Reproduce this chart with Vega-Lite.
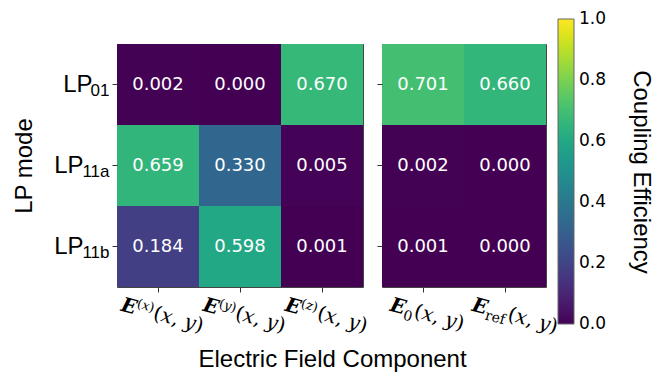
{
  "$schema": "https://vega.github.io/schema/vega-lite/v6.json",
  "padding": {"left": 12, "top": 19, "right": 5, "bottom": 3},
  "background": "white",
  "data": {"values": [
    {"panel": "L", "mode": "LP01", "comp": "Ex", "value": 0.002},
    {"panel": "L", "mode": "LP01", "comp": "Ey", "value": 0.000},
    {"panel": "L", "mode": "LP01", "comp": "Ez", "value": 0.670},
    {"panel": "L", "mode": "LP11a", "comp": "Ex", "value": 0.659},
    {"panel": "L", "mode": "LP11a", "comp": "Ey", "value": 0.330},
    {"panel": "L", "mode": "LP11a", "comp": "Ez", "value": 0.005},
    {"panel": "L", "mode": "LP11b", "comp": "Ex", "value": 0.184},
    {"panel": "L", "mode": "LP11b", "comp": "Ey", "value": 0.598},
    {"panel": "L", "mode": "LP11b", "comp": "Ez", "value": 0.001},
    {"panel": "R", "mode": "LP01", "comp": "E0", "value": 0.701},
    {"panel": "R", "mode": "LP01", "comp": "Eref", "value": 0.660},
    {"panel": "R", "mode": "LP11a", "comp": "E0", "value": 0.002},
    {"panel": "R", "mode": "LP11a", "comp": "Eref", "value": 0.000},
    {"panel": "R", "mode": "LP11b", "comp": "E0", "value": 0.001},
    {"panel": "R", "mode": "LP11b", "comp": "Eref", "value": 0.000}
  ]},
  "title": {"text": "Electric Field Component", "orient": "bottom", "anchor": "middle", "font": "Liberation Sans", "fontSize": 24, "fontWeight": "normal", "color": "black", "offset": 11},
  "spacing": 6,
  "hconcat": [
    {
      "width": 246, "height": 243,
      "transform": [{"filter": "datum.panel == 'L'"}],
      "layer": [
        {
          "mark": {"type": "rect"},
          "encoding": {
            "x": {"field": "comp", "type": "nominal", "axis": {
              "orient": "bottom", "title": null, "labelAngle": 15, "labelAlign": "left", "labelBaseline": "alphabetic",
              "labelPadding": 18, "labelOffset": -38, "labelFont": "DejaVu Serif", "labelFontSize": 20, "labelFontWeight": "bold", "labelFontStyle": "italic", "labelColor": "black",
              "labelOverlap": false, "labelLimit": 0, "labelFlush": false, "tickSize": 5, "tickColor": "#333",
              "labelExpr": "'E'"
            }},
            "y": {"field": "mode", "type": "nominal", "axis": {
              "orient": "left", "title": "LP mode", "titleFont": "Liberation Sans", "titleFontSize": 24, "titleFontWeight": "normal", "titleColor": "black", "titlePadding": 17,
              "labelFont": "Liberation Sans", "labelFontSize": 24, "labelColor": "black",
              "labelExpr": "datum.value == 'LP01' ? '' : 'LP'",
              "labelPadding": 29, "tickSize": 5, "tickColor": "#333"
            }},
            "color": {"field": "value", "type": "quantitative", "scale": {"scheme": "viridis", "domain": [0, 1]},
              "legend": {"title": "Coupling Efficiency", "orient": "none", "legendX": 441, "legendY": -25, "direction": "vertical",
                "gradientLength": 305, "gradientThickness": 16, "gradientStrokeColor": "#666", "gradientStrokeWidth": 1,
                "values": [0, 0.2, 0.4, 0.6, 0.8, 1.0], "format": ".1f", "labelFont": "DejaVu Sans", "labelFontSize": 17, "labelColor": "black", "labelOffset": 5,
                "labelOverlap": false,
                "encode": {"labels": {"update": {"baseline": {"value": "middle"}}}},
                "titleOrient": "right", "titleAngle": 270, "titleAnchor": "middle", "titleBaseline": "top", "titlePadding": 47,
                "titleFont": "Liberation Sans", "titleFontSize": 24, "titleFontWeight": "normal", "titleColor": "black", "titleLimit": 0}}
          }
        },
        {
          "mark": {"type": "rect", "fillOpacity": 0},
          "encoding": {
            "x": {"field": "comp", "type": "nominal", "axis": {
              "orient": "bottom", "title": null, "domain": false, "ticks": true, "tickSize": 5, "tickOpacity": 0,
              "labelAngle": 15, "labelAlign": "left", "labelBaseline": "alphabetic",
              "labelPadding": 26.6, "labelOffset": -5.7, "labelFont": "DejaVu Serif", "labelFontSize": 20, "labelColor": "black",
              "labelOverlap": false, "labelLimit": 0, "labelFlush": false,
              "labelExpr": "'(𝑥, 𝑦)'"
            }},
            "y": {"field": "mode", "type": "nominal", "axis": {
              "orient": "left", "title": null, "domain": false, "ticks": true, "tickSize": 5, "tickOpacity": 0,
              "labelFont": "Liberation Sans", "labelFontSize": 24, "labelColor": "black",
              "labelExpr": "datum.value == 'LP01' ? 'LP' : ''",
              "labelPadding": 20
            }}
          }
        },
        {
          "mark": {"type": "text", "font": "DejaVu Sans", "fontSize": 18, "color": "white"},
          "encoding": {
            "x": {"field": "comp", "type": "nominal", "axis": {
              "orient": "bottom", "title": null, "domain": false, "ticks": true, "tickSize": 5, "tickOpacity": 0,
              "labelAngle": 15, "labelAlign": "left", "labelBaseline": "alphabetic",
              "labelPadding": 15, "labelOffset": -21.7, "labelFont": "DejaVu Serif", "labelFontSize": 13, "labelColor": "black",
              "labelOverlap": false, "labelLimit": 0, "labelFlush": false,
              "labelExpr": "datum.value == 'Ex' ? '(𝑥)' : datum.value == 'Ey' ? '(𝑦)' : '(𝑧)'"
            }},
            "y": {"field": "mode", "type": "nominal", "axis": {
              "orient": "left", "title": null, "domain": false, "ticks": true, "tickSize": 5, "tickOpacity": 0,
              "labelFont": "Liberation Sans", "labelFontSize": 17, "labelColor": "black", "labelExpr": "substring(datum.value, 2)",
              "labelPadding": 3, "labelOffset": 6
            }},
            "text": {"field": "value", "type": "quantitative", "format": ".3f"}
          }
        }
      ],
      "resolve": {"axis": {"x": "independent", "y": "independent"}}
    },
    {
      "width": 164, "height": 243,
      "transform": [{"filter": "datum.panel == 'R'"}],
      "layer": [
        {
          "mark": {"type": "rect"},
          "encoding": {
            "x": {"field": "comp", "type": "nominal", "axis": {
              "orient": "bottom", "title": null, "labelAngle": 15, "labelAlign": "left", "labelBaseline": "alphabetic",
              "labelPadding": 18, "labelOffset": -34, "labelFont": "DejaVu Serif", "labelFontSize": 20, "labelFontWeight": "bold", "labelFontStyle": "italic", "labelColor": "black",
              "labelOverlap": false, "labelLimit": 0, "labelFlush": false, "tickSize": 5, "tickColor": "#333",
              "labelExpr": "'E'"
            }},
            "y": {"field": "mode", "type": "nominal", "axis": {
              "orient": "left", "title": null, "labels": false, "tickSize": 5, "tickColor": "#333"
            }},
            "color": {"field": "value", "type": "quantitative", "scale": {"scheme": "viridis", "domain": [0, 1]}}
          }
        },
        {
          "mark": {"type": "rect", "fillOpacity": 0},
          "encoding": {
            "x": {"field": "comp", "type": "nominal", "axis": {
              "orient": "bottom", "title": null, "domain": false, "ticks": true, "tickSize": 5, "tickOpacity": 0,
              "labelAngle": 15, "labelAlign": "left", "labelBaseline": "alphabetic",
              "labelPadding": 24.5, "labelOffset": -9.9, "labelFont": "DejaVu Serif", "labelFontSize": 20, "labelColor": "black",
              "labelOverlap": false, "labelLimit": 0, "labelFlush": false,
              "labelExpr": "datum.value == 'E0' ? '(𝑥, 𝑦)' : ''"
            }},
            "y": {"field": "mode", "type": "nominal"}
          }
        },
        {
          "mark": {"type": "rect", "fillOpacity": 0},
          "encoding": {
            "x": {"field": "comp", "type": "nominal", "axis": {
              "orient": "bottom", "title": null, "domain": false, "ticks": true, "tickSize": 5, "tickOpacity": 0,
              "labelAngle": 15, "labelAlign": "left", "labelBaseline": "alphabetic",
              "labelPadding": 27.6, "labelOffset": 1.7, "labelFont": "DejaVu Serif", "labelFontSize": 20, "labelColor": "black",
              "labelOverlap": false, "labelLimit": 0, "labelFlush": false,
              "labelExpr": "datum.value == 'Eref' ? '(𝑥, 𝑦)' : ''"
            }},
            "y": {"field": "mode", "type": "nominal"}
          }
        },
        {
          "mark": {"type": "text", "font": "DejaVu Sans", "fontSize": 18, "color": "white"},
          "encoding": {
            "x": {"field": "comp", "type": "nominal", "axis": {
              "orient": "bottom", "title": null, "domain": false, "ticks": true, "tickSize": 5, "tickOpacity": 0,
              "labelAngle": 15, "labelAlign": "left", "labelBaseline": "alphabetic",
              "labelPadding": 26.7, "labelOffset": -20.8, "labelFont": "DejaVu Serif", "labelFontSize": 14, "labelColor": "black",
              "labelOverlap": false, "labelLimit": 0, "labelFlush": false,
              "labelExpr": "datum.value == 'Eref' ? 'ref' : '0'"
            }},
            "y": {"field": "mode", "type": "nominal"},
            "text": {"field": "value", "type": "quantitative", "format": ".3f"}
          }
        }
      ],
      "resolve": {"axis": {"x": "independent"}}
    }
  ],
  "resolve": {"scale": {"color": "shared"}, "legend": {"color": "shared"}},
  "config": {
    "view": {"stroke": "#444", "strokeWidth": 1},
    "axis": {"domain": false, "grid": false}
  }
}
